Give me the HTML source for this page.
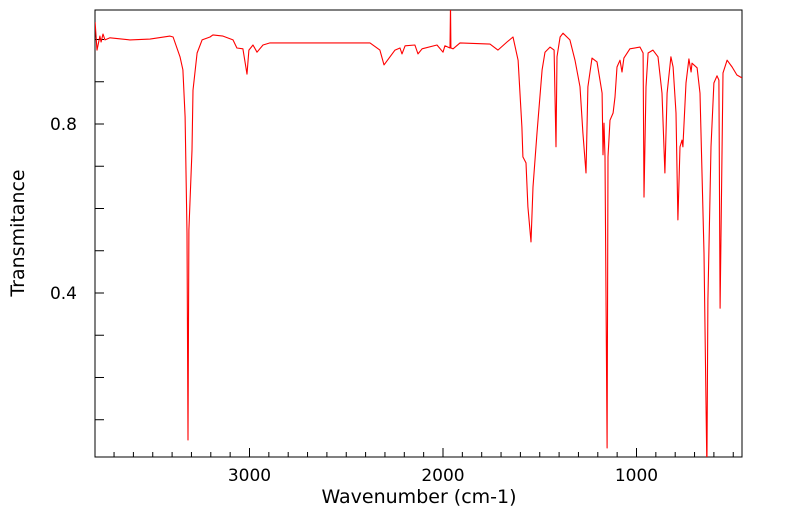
<!DOCTYPE html>
<html><head><meta charset="utf-8"><style>
html,body{margin:0;padding:0;background:#fff;}
svg{display:block;font-family:"DejaVu Sans","Liberation Sans",sans-serif;}
</style></head><body>
<svg id="chart" width="799" height="516" viewBox="0 0 799 516">
<defs><clipPath id="clip"><rect x="95" y="10" width="647" height="447"/></clipPath></defs>
<rect x="95" y="10" width="647" height="447" fill="#fff" stroke="#000" stroke-width="1"/>
<g id="ticks"></g>
<path id="line" clip-path="url(#clip)" fill="none" stroke="#ff0000" stroke-width="1.1" stroke-linejoin="round"/>
<text x="0" y="0" transform="translate(24,233) rotate(-90)" text-anchor="middle" font-size="19">Transmitance</text>
<text x="419" y="503" text-anchor="middle" font-size="19">Wavenumber (cm-1)</text>
</svg>
<script>
const wavenumbers=[3798,3788,3773,3767,3757,3747,3721,3618,3514,3411,3395,3359,3344,3333,3323,3318,3313,3297,3292,3271,3245,3204,3189,3137,3085,3065,3034,3013,3003,2982,2961,2930,2894,2636,2377,2326,2305,2274,2248,2222,2212,2196,2145,2129,2108,2031,2000,1990,1964,1961,1959,1948,1912,1757,1716,1669,1638,1612,1592,1587,1571,1561,1545,1535,1514,1488,1473,1447,1426,1416,1411,1395,1380,1344,1318,1292,1277,1261,1251,1230,1204,1178,1173,1168,1163,1152,1147,1137,1121,1111,1101,1085,1075,1065,1034,982,966,961,951,940,915,889,868,853,842,822,811,796,786,775,765,760,744,729,718,713,687,672,651,636,631,615,600,584,574,568,553,532,506,481,455];
const transmittance=[1.041,0.975,1.008,0.994,1.013,0.999,1.004,0.999,1.001,1.008,1.006,0.959,0.928,0.817,0.542,0.052,0.549,0.738,0.880,0.968,0.999,1.006,1.011,1.008,0.999,0.980,0.978,0.918,0.975,0.987,0.970,0.987,0.992,0.992,0.992,0.975,0.940,0.959,0.975,0.980,0.966,0.985,0.987,0.966,0.978,0.987,0.970,0.985,0.980,1.082,0.980,0.978,0.992,0.989,0.975,0.994,1.006,0.951,0.793,0.722,0.708,0.604,0.521,0.651,0.779,0.928,0.970,0.982,0.975,0.746,0.959,1.006,1.015,0.999,0.951,0.888,0.779,0.684,0.888,0.956,0.947,0.873,0.727,0.802,0.722,0.033,0.722,0.809,0.826,0.864,0.935,0.951,0.923,0.956,0.978,0.982,0.968,0.627,0.888,0.968,0.975,0.959,0.873,0.684,0.873,0.959,0.935,0.826,0.573,0.746,0.762,0.746,0.897,0.954,0.923,0.944,0.933,0.873,0.495,-0.019,0.383,0.746,0.897,0.914,0.904,0.364,0.921,0.951,0.935,0.916,0.909];
const xMajorTicks=[3000,2000,1000];
const yMajorTicks=[0.4,0.8];
function xs(w){return (4289.4-w)/5.168;}
function ys(t){return (1.0935-t)/0.002367;}
const NS="http://www.w3.org/2000/svg";
const g=document.getElementById('ticks');
function ln(x1,y1,x2,y2){const l=document.createElementNS(NS,'line');l.setAttribute('x1',x1);l.setAttribute('y1',y1);l.setAttribute('x2',x2);l.setAttribute('y2',y2);l.setAttribute('stroke','#000');l.setAttribute('stroke-width','1');


g.appendChild(l);}
for(let w=500;w<=3700;w+=100){const x=xs(w);const major=w%1000===0;ln(x,457,x,457-(major?9:5));}
for(let i=1;i<=10;i++){const t=i/10;const y=ys(t);if(y<10||y>457)continue;ln(95,y,104,y);}
xMajorTicks.forEach(w=>{const t=document.createElementNS(NS,'text');t.setAttribute('x',xs(w));t.setAttribute('y',481);t.setAttribute('text-anchor','middle');t.setAttribute('font-size','17');t.textContent=w;


g.appendChild(t);});
yMajorTicks.forEach(v=>{const t=document.createElementNS(NS,'text');t.setAttribute('x',77);t.setAttribute('y',ys(v)+6);t.setAttribute('text-anchor','end');t.setAttribute('font-size','17');t.textContent=v.toFixed(1);


g.appendChild(t);});
let d='';wavenumbers.forEach((w,i)=>{d+=(i?'L':'M')+xs(w).toFixed(1)+','+ys(transmittance[i]).toFixed(1);});
document.getElementById('line').setAttribute('d',d);
</script>
</body></html>
